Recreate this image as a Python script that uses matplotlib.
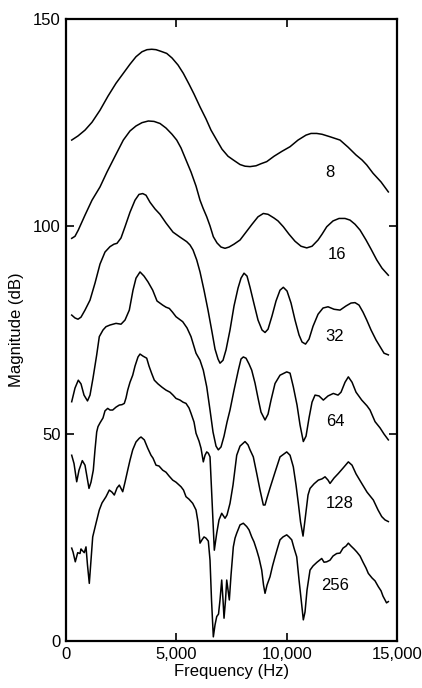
import numpy as np
import matplotlib.pyplot as plt

plt.rcParams['font.family'] = ['Liberation Sans', 'DejaVu Sans']

# Cepstrally smoothed spectra, number of coefficients per curve
freq_8 = [258, 544, 861, 1178, 1541, 1903, 2266, 2597, 2900, 3172, 3444, 3671, 3884, 4079, 4305, 4564,
          4804, 5076, 5316, 5574, 5801, 6073, 6345, 6571, 6830, 7070, 7342, 7582, 7886, 8112, 8339, 8611,
          8837, 9096, 9427, 9789, 10152, 10514, 10877, 11103, 11362, 11602, 11964, 12418, 12780, 13143,
          13415, 13628, 13913, 14276, 14607]
mag_8 = [120.8, 121.8, 123.2, 125.1, 128.0, 131.4, 134.5, 136.9, 139.1, 140.9, 142.1, 142.6, 142.7, 142.6,
         142.2, 141.7, 140.6, 138.9, 136.9, 134.3, 131.9, 128.8, 125.9, 123.2, 120.8, 118.6, 116.9, 116.0,
         114.9, 114.5, 114.4, 114.6, 115.1, 115.6, 116.9, 118.1, 119.2, 120.8, 122.0, 122.4, 122.4, 122.2,
         121.6, 120.8, 119.1, 117.2, 116.0, 114.8, 112.8, 110.7, 108.3]

freq_16 = [258, 408, 557, 861, 1178, 1541, 1858, 2221, 2597, 2900, 3172, 3444, 3730, 3988, 4260, 4532,
           4804, 5017, 5212, 5438, 5665, 5892, 6073, 6209, 6377, 6526, 6676, 6843, 7025, 7206, 7387, 7614,
           7886, 8158, 8430, 8701, 8942, 9155, 9427, 9608, 9848, 10106, 10378, 10650, 10909, 11149, 11421,
           11602, 11815, 12100, 12372, 12644, 12871, 13097, 13324, 13596, 13823, 14081, 14321, 14607]
mag_16 = [97.1, 97.6, 99.1, 102.7, 106.3, 109.5, 113.1, 116.9, 120.8, 123.0, 124.2, 125.0, 125.4, 125.3,
          124.8, 123.7, 122.2, 120.8, 118.9, 116.0, 113.1, 109.7, 106.3, 104.4, 102.3, 100.1, 97.5, 96.0,
          95.0, 94.7, 95.0, 95.7, 96.7, 98.6, 100.5, 102.3, 103.1, 102.9, 102.0, 101.3, 99.9, 98.1, 96.4,
          95.2, 94.8, 95.2, 96.7, 98.1, 99.9, 101.3, 101.9, 101.9, 101.5, 100.5, 99.1, 96.7, 94.5, 91.9,
          89.9, 88.2]

freq_32 = [258, 408, 544, 680, 861, 1088, 1314, 1541, 1767, 1994, 2175, 2311, 2493, 2674, 2900, 3127,
           3308, 3476, 3626, 3807, 4033, 4260, 4532, 4849, 5166, 5470, 5620, 5756, 5923, 6073, 6254, 6435,
           6617, 6753, 6889, 6979, 7115, 7251, 7432, 7614, 7795, 7931, 8067, 8203, 8339, 8520, 8701, 8883,
           9019, 9155, 9336, 9517, 9698, 9848, 10016, 10197, 10378, 10560, 10696, 10854, 11013, 11194,
           11421, 11647, 11874, 12146, 12418, 12690, 12916, 13097, 13279, 13460, 13628, 13823, 14049,
           14230, 14412, 14607]
mag_32 = [78.6, 77.9, 77.6, 78.1, 79.8, 82.2, 86.3, 90.9, 93.8, 95.1, 95.7, 95.9, 97.2, 99.9, 103.4, 106.3,
          107.7, 107.9, 107.5, 105.8, 104.2, 102.9, 100.8, 98.6, 97.4, 96.3, 95.5, 94.3, 91.9, 89.0, 84.6,
          79.8, 74.5, 70.4, 68.0, 67.0, 67.7, 70.2, 75.0, 80.8, 85.1, 87.5, 88.7, 88.0, 85.3, 81.3, 77.4,
          75.0, 74.4, 75.2, 78.4, 82.0, 84.6, 85.3, 84.4, 81.5, 77.4, 73.8, 72.1, 71.6, 72.8, 75.9, 78.8,
          80.3, 80.6, 80.0, 79.8, 80.8, 81.5, 81.6, 81.0, 79.3, 77.4, 75.0, 72.6, 71.0, 69.4, 69.0]

freq_64 = [258, 408, 557, 680, 816, 974, 1088, 1224, 1391, 1509, 1677, 1813, 1994, 2266, 2493, 2674,
           2869, 3036, 3172, 3354, 3535, 3716, 3929, 4124, 4382, 4532, 4682, 4827, 4985, 5289, 5484, 5665,
           5892, 6073, 6222, 6377, 6526, 6662, 6798, 6902, 7025, 7161, 7297, 7432, 7614, 7809, 7931, 8035,
           8158, 8294, 8416, 8565, 8701, 8837, 9019, 9155, 9291, 9472, 9698, 10002, 10152, 10301, 10469,
           10605, 10754, 10877, 11013, 11149, 11285, 11466, 11661, 11874, 12114, 12327, 12463, 12644,
           12794, 12962, 13143, 13401, 13641, 13777, 14004, 14230, 14412, 14607]
mag_64 = [57.7, 61.0, 62.9, 62.0, 59.3, 57.9, 59.3, 63.4, 69.0, 73.4, 75.0, 75.8, 76.2, 76.6, 76.4, 77.4,
          79.8, 84.6, 87.5, 89.0, 88.0, 86.6, 84.6, 82.0, 81.0, 80.5, 80.2, 79.3, 78.2, 77.0, 75.5, 73.4,
          69.4, 67.7, 65.3, 61.3, 55.7, 50.4, 47.0, 46.1, 46.8, 49.4, 52.8, 55.7, 60.5, 65.3, 68.0, 68.5,
          68.2, 66.8, 65.3, 62.2, 58.6, 55.2, 53.3, 54.7, 58.1, 62.1, 64.1, 64.9, 64.6, 61.3, 56.9, 52.1,
          48.1, 49.4, 53.8, 57.6, 59.3, 59.1, 58.1, 59.1, 59.7, 59.3, 60.0, 62.4, 63.7, 62.4, 60.0, 58.1,
          56.7, 55.7, 52.9, 51.4, 49.9, 48.5]

freq_128 = [258, 363, 485, 589, 739, 861, 1042, 1133, 1237, 1314, 1391, 1450, 1541, 1677, 1767, 1890,
            1994, 2116, 2266, 2416, 2538, 2642, 2719, 2796, 2900, 3023, 3127, 3263, 3354, 3490, 3657, 3762,
            3884, 4002, 4169, 4351, 4532, 4713, 4849, 4985, 5166, 5302, 5438, 5574, 5665, 5801, 5892, 6028,
            6118, 6222, 6299, 6377, 6449, 6526, 6617, 6721, 6830, 6934, 7056, 7206, 7297, 7432, 7568, 7736,
            7886, 8112, 8248, 8339, 8488, 8643, 8792, 8942, 9019, 9109, 9245, 9472, 9698, 10002, 10152,
            10301, 10424, 10528, 10628, 10741, 10831, 10967, 11058, 11240, 11434, 11602, 11738, 11874,
            11964, 12146, 12341, 12554, 12794, 12962, 13143, 13401, 13641, 13927, 14140, 14307, 14457, 14607]
mag_128 = [44.8, 42.8, 38.4, 41.2, 43.5, 42.4, 36.8, 38.3, 41.2, 46.1, 50.4, 51.7, 52.6, 53.8, 55.5, 56.1,
           55.7, 55.7, 56.4, 56.9, 57.0, 57.3, 58.6, 60.5, 62.4, 64.1, 66.3, 68.5, 69.2, 68.7, 68.2, 66.3,
           64.5, 62.9, 62.0, 61.2, 60.5, 60.0, 59.3, 58.5, 58.1, 57.6, 57.3, 56.2, 54.9, 52.8, 50.1, 48.2,
           46.5, 43.2, 44.8, 45.6, 45.3, 44.4, 34.0, 21.9, 26.0, 29.2, 30.8, 29.6, 30.4, 33.2, 37.6, 44.8,
           47.0, 48.1, 47.3, 46.1, 44.4, 40.4, 36.4, 32.8, 32.8, 34.5, 36.9, 40.7, 44.4, 45.6, 44.8, 42.0,
           37.6, 33.2, 28.7, 25.3, 29.2, 35.2, 36.8, 37.9, 38.8, 39.1, 39.6, 38.8, 38.0, 39.3, 40.4, 41.7,
           43.2, 42.4, 40.3, 38.0, 35.9, 34.0, 31.6, 30.0, 29.2, 28.8]

freq_256 = [258, 317, 421, 530, 634, 680, 725, 829, 906, 974, 1056, 1133, 1210, 1360, 1509, 1632, 1813,
            1962, 2085, 2189, 2311, 2416, 2570, 2674, 2796, 2900, 3023, 3172, 3322, 3399, 3549, 3703, 3852,
            3943, 4079, 4215, 4382, 4532, 4668, 4836, 4985, 5212, 5325, 5438, 5574, 5742, 5892, 5982, 6073,
            6164, 6254, 6345, 6449, 6526, 6594, 6676, 6753, 6830, 6911, 6979, 7056, 7115, 7161, 7229, 7283,
            7342, 7401, 7478, 7582, 7659, 7736, 7886, 8035, 8189, 8294, 8416, 8520, 8643, 8747, 8869, 8951,
            9019, 9109, 9245, 9359, 9472, 9585, 9698, 9834, 10002, 10106, 10229, 10333, 10455, 10560, 10682,
            10754, 10831, 10922, 11058, 11194, 11375, 11588, 11693, 11815, 11964, 12100, 12268, 12418,
            12554, 12690, 12794, 12916, 13052, 13174, 13324, 13460, 13596, 13700, 13868, 14004, 14153,
            14276, 14366, 14457, 14525, 14607]
mag_256 = [22.4, 21.5, 19.1, 21.3, 21.1, 22.2, 21.9, 21.3, 22.7, 18.3, 13.9, 19.5, 25.1, 28.4, 31.6, 33.3,
           34.8, 36.4, 35.9, 35.2, 36.9, 37.6, 36.0, 38.3, 41.2, 43.6, 46.1, 48.0, 48.9, 49.2, 48.5, 46.5,
           44.8, 44.1, 42.4, 42.2, 41.2, 40.7, 39.8, 38.8, 38.3, 37.2, 36.4, 34.8, 34.2, 33.2, 31.6, 28.7,
           23.6, 24.4, 25.1, 24.8, 24.1, 19.5, 9.9, 1.0, 3.9, 5.9, 6.5, 9.9, 14.7, 9.9, 5.5, 9.9, 14.7, 12.3,
           9.9, 15.9, 22.7, 24.8, 26.0, 28.0, 28.4, 27.6, 26.8, 25.1, 23.9, 21.9, 20.0, 17.1, 13.5, 11.5,
           13.5, 15.5, 18.1, 20.3, 22.4, 24.4, 25.1, 25.6, 25.1, 24.4, 22.4, 20.3, 14.7, 8.7, 5.1, 7.0, 12.3,
           17.1, 18.1, 19.0, 19.9, 19.0, 19.1, 19.5, 20.5, 21.1, 21.2, 22.4, 22.9, 23.6, 22.9, 22.2, 21.5,
           20.5, 19.0, 17.6, 16.3, 15.2, 14.5, 13.1, 12.1, 10.8, 9.9, 9.2, 9.5]

labels = ['8', '16', '32', '64', '128', '256']
label_freq = [11960, 12270, 12190, 12190, 12420, 12190]
label_mag = [112.9, 93.1, 73.4, 52.9, 33.2, 13.5]

curves = [(freq_8, mag_8), (freq_16, mag_16), (freq_32, mag_32),
          (freq_64, mag_64), (freq_128, mag_128), (freq_256, mag_256)]

fig = plt.figure(figsize=(4.22, 6.88), dpi=100)
ax = fig.add_axes([0.1564, 0.0683, 0.7844, 0.9041])

for f, m in curves:
    ax.plot(f, m, color='black', lw=1.1)

for lab, lf, lm in zip(labels, label_freq, label_mag):
    ax.text(lf, lm, lab, fontsize=12, ha='center', va='center')

ax.set_xlim(0, 15000)
ax.set_ylim(0, 150)
ax.set_xticks([0, 5000, 10000, 15000])
ax.set_xticklabels(['0', '5,000', '10,000', '15,000'])
ax.set_yticks([0, 50, 100, 150])
ax.tick_params(direction='in', length=6, width=1.2, labelsize=12, top=True, right=True, pad=4)
for s in ax.spines.values():
    s.set_linewidth(1.6)

ax.set_xlabel('Frequency (Hz)', fontsize=12, labelpad=2)
ax.set_ylabel('Magnitude (dB)', fontsize=12, labelpad=6)

fig.savefig('out.png', dpi=100)
